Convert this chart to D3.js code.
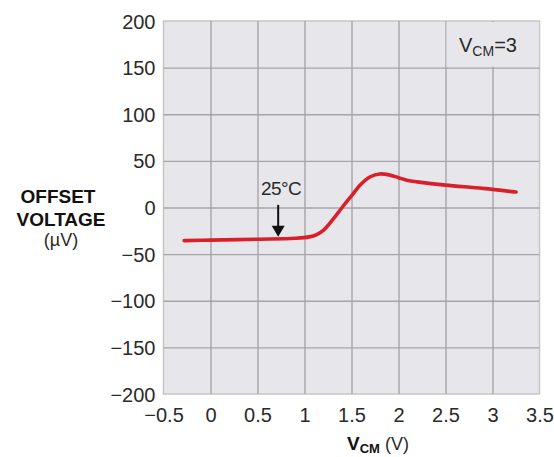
<!DOCTYPE html>
<html>
<head>
<meta charset="utf-8">
<script src="https://cdn.jsdelivr.net/npm/d3@7"></script>
<style>
  html, body { margin: 0; padding: 0; background: #ffffff; }
  svg { display: block; }
  text { font-family: "Liberation Sans", Arial, Helvetica, sans-serif; }
</style>
</head>
<body>
<svg id="chart" width="554" height="457"></svg>
<script>
// ---- data ----
const vcm    = [-0.28, 0.0, 0.5, 0.9, 1.05, 1.13, 1.2, 1.3, 1.4, 1.5, 1.6, 1.7, 1.8, 1.9, 2.0, 2.1, 2.2, 2.5, 2.9, 3.25];
const offset = [-35.5, -35, -34, -33, -31.5, -29, -24.5, -13, 0, 12.5, 25, 33, 36, 35, 32, 29, 27.5, 24, 20.5, 16.6];

const xTickVals   = [-0.5, 0, 0.5, 1, 1.5, 2, 2.5, 3, 3.5];
const xTickLabels = ["\u22120.5", "0", "0.5", "1", "1.5", "2", "2.5", "3", "3.5"];
const yTickVals   = [-200, -150, -100, -50, 0, 50, 100, 150, 200];
const yTickLabels = ["\u2212200", "\u2212150", "\u2212100", "\u221250", "0", "50", "100", "150", "200"];

const annotation = { x: 0.72, y: -31.5, label: "25\u00B0C" };

// ---- layout ----
const L = 163.5, R = 539.5, T = 21, B = 394;
const svg = d3.select("#chart");

const x = d3.scaleLinear().domain([-0.5, 3.5]).range([L, R]);
const y = d3.scaleLinear().domain([-200, 200]).range([B, T]);

// plot background
svg.append("rect")
  .attr("x", L).attr("y", T).attr("width", R - L).attr("height", B - T)
  .attr("fill", "#e7e7eb").attr("stroke", "#c6c6ca").attr("stroke-width", 1.5);

// grid lines
const gx = svg.append("g").attr("transform", `translate(0,${B})`)
  .call(d3.axisBottom(x).tickValues(xTickVals.slice(1, -1)).tickSize(-(B - T)).tickFormat(""));
gx.select(".domain").remove();
gx.selectAll("line").attr("stroke", "#a4a4aa").attr("stroke-width", 1.4);

const gy = svg.append("g").attr("transform", `translate(${L},0)`)
  .call(d3.axisLeft(y).tickValues(yTickVals.slice(1, -1)).tickSize(-(R - L)).tickFormat(""));
gy.select(".domain").remove();
gy.selectAll("line").attr("stroke", "#a4a4aa").attr("stroke-width", 1.4);

// label box (covers grid)
svg.append("rect")
  .attr("x", x(2.5) + 1).attr("y", T + 1)
  .attr("width", R - x(2.5) - 2).attr("height", y(150) - T - 2)
  .attr("fill", "#e7e7eb");

const vl = svg.append("text").attr("x", 459).attr("y", 52).attr("fill", "#2a2a2a")
  .attr("font-size", 20);
vl.append("tspan").text("V");
vl.append("tspan").attr("font-size", 14).attr("dy", 4).text("CM");
vl.append("tspan").attr("dy", -4).text("=3");

// curve
const pts = vcm.map((v, i) => [v, offset[i]]);
svg.append("path")
  .datum(pts)
  .attr("fill", "none")
  .attr("stroke", "#d8202a")
  .attr("stroke-width", 3.6)
  .attr("stroke-linecap", "round")
  .attr("stroke-linejoin", "round")
  .attr("d", d3.line().x(d => x(d[0])).y(d => y(d[1])).curve(d3.curveCatmullRom.alpha(0.5)));

// annotation arrow
const ax = x(annotation.x), ay = y(annotation.y);
svg.append("line")
  .attr("x1", ax).attr("x2", ax).attr("y1", ay - 32).attr("y2", ay - 8)
  .attr("stroke", "#111").attr("stroke-width", 2);
svg.append("path")
  .attr("d", `M${ax - 6.5},${ay - 11} L${ax + 6.5},${ay - 11} L${ax},${ay} Z`)
  .attr("fill", "#111");
svg.append("text")
  .attr("x", x(0.75)).attr("y", 195)
  .attr("text-anchor", "middle").attr("font-size", 19).attr("fill", "#2a2a2a")
  .attr("letter-spacing", -0.6)
  .text(annotation.label);

// axes tick labels
const ax1 = svg.append("g").attr("transform", `translate(0,${B})`)
  .call(d3.axisBottom(x).tickValues(xTickVals).tickSize(0).tickFormat((d, i) => xTickLabels[i]));
ax1.select(".domain").remove();
ax1.selectAll("text").attr("y", 28).attr("dy", 0)
  .attr("font-size", 20).attr("fill", "#2a2a2a")
  .attr("font-family", "'Liberation Sans', Arial, sans-serif");

const ay1 = svg.append("g").attr("transform", `translate(${L},0)`)
  .call(d3.axisLeft(y).tickValues(yTickVals).tickSize(0).tickPadding(8).tickFormat((d, i) => yTickLabels[i]));
ay1.select(".domain").remove();
ay1.selectAll("text").attr("dy", "0.35em")
  .attr("font-size", 20).attr("fill", "#2a2a2a")
  .attr("font-family", "'Liberation Sans', Arial, sans-serif");

// y title
const yt = svg.append("g").attr("fill", "#111");
yt.append("text").attr("x", 58).attr("y", 203).attr("text-anchor", "middle")
  .attr("font-size", 19).attr("font-weight", "bold").text("OFFSET");
yt.append("text").attr("x", 61).attr("y", 226).attr("text-anchor", "middle")
  .attr("font-size", 19).attr("font-weight", "bold").text("VOLTAGE");
yt.append("text").attr("x", 61).attr("y", 246).attr("text-anchor", "middle")
  .attr("font-size", 18).attr("fill", "#2a2a2a").text("(\u00B5V)");

// x title
const xt = svg.append("text").attr("x", 347).attr("y", 450).attr("fill", "#111").attr("font-size", 19);
xt.append("tspan").attr("font-weight", "bold").text("V");
xt.append("tspan").attr("font-weight", "bold").attr("font-size", 13).attr("dy", 3).text("CM");
xt.append("tspan").attr("dy", -3).attr("fill", "#2a2a2a").attr("font-size", 18).text(" (V)");
</script>
</body>
</html>
